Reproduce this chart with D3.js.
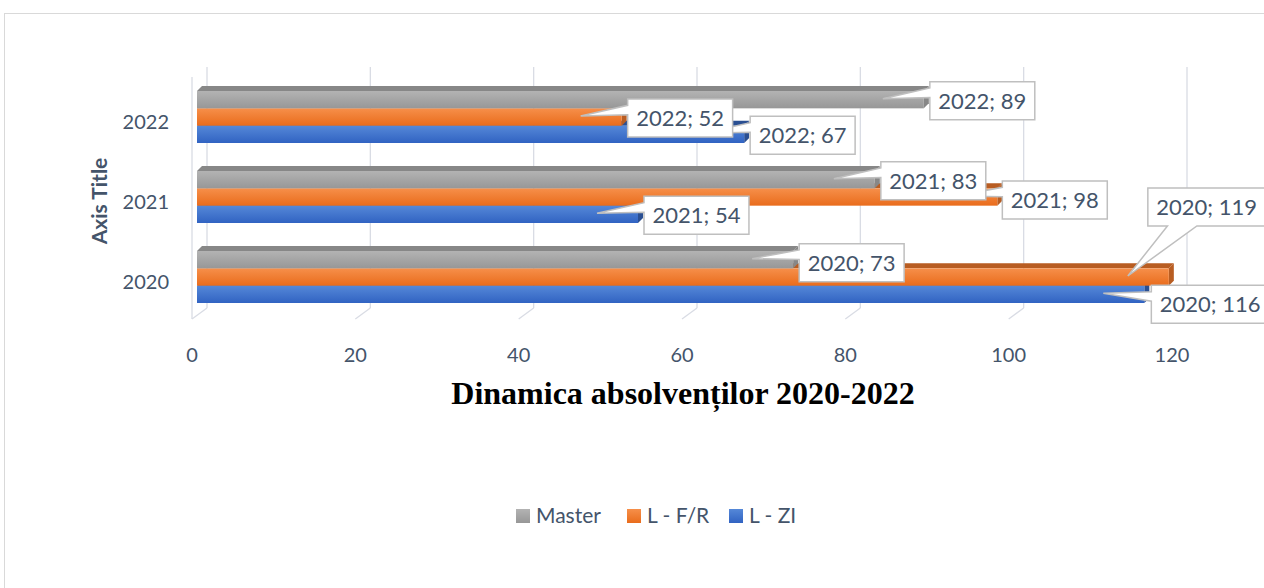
<html>
<head>
  <meta charset="utf-8">
  <title>Dinamica absolventilor</title>
  <script src="https://d3js.org/d3.v7.min.js"></script>
  <style>
    body { margin: 0; background: #fff; }
  </style>
</head>
<body>
  <script>
    // data
    const years = ["2022", "2021", "2020"];
    const seriesNames = ["Master", "L - F/R", "L - ZI"];
    const master = { "2020": 73, "2021": 83, "2022": 89 };
    const lfr = { "2020": 119, "2021": 98, "2022": 52 };
    const lzi = { "2020": 116, "2021": 54, "2022": 67 };
    const xTicks = [0, 20, 40, 60, 80, 100, 120];

    const values = [master, lfr, lzi];

    // colours [light, dark, top/side face]
    const colors = [
      ["#b3b3b3", "#979797", "#878787"],
      ["#f68f4a", "#e96c1c", "#b85d22"],
      ["#5588d8", "#3163c2", "#2a4f92"]
    ];

    // callout box offsets (layout only), relative to bar end / bar centre
    const calloutShift = {
      "L - F/R|2020": [-27, -71],
      "L - ZI|2020": [1, 9],
      "Master|2020": [0, 2],
      "L - F/R|2021": [-1, 2]
    };

    const width = 1264, height = 588;
    const svg = d3.select("body").append("svg")
      .attr("width", width)
      .attr("height", height);

    const txt = "#44546a";
    const grid = "#d9dce4";

    // chart frame
    svg.append("rect")
      .attr("x", 4.5).attr("y", 13.5)
      .attr("width", 1400).attr("height", 700)
      .attr("fill", "#fff")
      .attr("stroke", "#d9d9d9");

    const x = d3.scaleLinear().domain([0, 120]).range([0, 980]);
    const frontX = 192, barX = 197, backX = 207;
    const backTop = 67, backBottom = 308, frontBottom = 319;

    const y = d3.scaleBand().domain(years).range([77, 317]).paddingInner(0.35).paddingOuter(0.175);
    const yi = d3.scaleBand().domain(seriesNames).range([0, y.bandwidth()]);

    const defs = svg.append("defs");
    colors.forEach(function (c, i) {
      const g = defs.append("linearGradient")
        .attr("id", "grad" + i)
        .attr("x1", 0).attr("y1", 0).attr("x2", 0).attr("y2", 1);
      g.append("stop").attr("offset", "0%").attr("stop-color", c[0]);
      g.append("stop").attr("offset", "100%").attr("stop-color", c[1]);
    });

    // back wall gridlines + floor lines
    const gl = svg.append("g");
    gl.selectAll(".vg").data(xTicks).enter().append("line")
      .attr("x1", d => backX + x(d)).attr("x2", d => backX + x(d))
      .attr("y1", backTop).attr("y2", backBottom)
      .attr("stroke", grid).attr("stroke-width", 1.3);
    gl.selectAll(".fg").data(xTicks).enter().append("line")
      .attr("x1", d => backX + x(d)).attr("x2", d => frontX + x(d))
      .attr("y1", backBottom).attr("y2", frontBottom)
      .attr("stroke", grid).attr("stroke-width", 1.3);
    gl.append("line")
      .attr("x1", frontX).attr("x2", frontX)
      .attr("y1", backTop + 10).attr("y2", frontBottom)
      .attr("stroke", grid).attr("stroke-width", 1.3);

    // x tick labels
    svg.append("g").selectAll("text").data(xTicks).enter().append("text")
      .attr("x", d => frontX + x(d))
      .attr("y", 362)
      .attr("text-anchor", "middle")
      .attr("font-family", "Lato")
      .attr("font-size", 20)
      .attr("fill", txt)
      .text(d => d);

    // y tick labels
    svg.append("g").selectAll("text").data(years).enter().append("text")
      .attr("x", 169)
      .attr("y", d => y(d) + y.bandwidth() / 2 + 12)
      .attr("text-anchor", "end")
      .attr("font-family", "Lato")
      .attr("font-size", 20)
      .attr("fill", txt)
      .text(d => d);

    svg.append("text")
      .attr("transform", "translate(107,201) rotate(-90)")
      .attr("text-anchor", "middle")
      .attr("font-family", "Lato")
      .attr("font-weight", "bold")
      .attr("font-size", 21)
      .attr("fill", txt)
      .text("Axis Title");

    // 3d bars, drawn bottom series first so upper bars cover top faces
    const ddx = 5, ddy = 5;
    const bars = svg.append("g");
    const points = [];
    years.forEach(function (yr) {
      for (let i = seriesNames.length - 1; i >= 0; i--) {
        const v = values[i][yr];
        const x0 = barX, x1 = barX + x(v);
        const y0 = y(yr) + yi(seriesNames[i]), y1 = y0 + yi.bandwidth();
        const g = bars.append("g");
        // top face
        g.append("path")
          .attr("d", `M${x0},${y0} L${x0 + ddx},${y0 - ddy} L${x1 + ddx},${y0 - ddy} L${x1},${y0} Z`)
          .attr("fill", colors[i][2]);
        // side face
        g.append("path")
          .attr("d", `M${x1},${y0} L${x1 + ddx},${y0 - ddy} L${x1 + ddx},${y1 - ddy} L${x1},${y1} Z`)
          .attr("fill", colors[i][2]);
        // front face
        g.append("rect")
          .attr("x", x0).attr("y", y0)
          .attr("width", x1 - x0).attr("height", y1 - y0)
          .attr("fill", "url(#grad" + i + ")");
        points.push({ name: seriesNames[i], year: yr, v: v, end: x1, cy: (y0 + y1) / 2 });
      }
    });

    // callout data labels
    const labels = svg.append("g");
    points.forEach(function (p) {
      const label = p.year + "; " + p.v;
      const shift = calloutShift[p.name + "|" + p.year] || [0, 0];
      const t = labels.append("text")
        .attr("font-family", "Lato")
        .attr("font-size", 22)
        .attr("fill", txt)
        .attr("text-anchor", "middle")
        .text(label);
      const tw = t.node().getComputedTextLength();
      const w = tw + 17, h = 38;
      const bx = p.end + 6 + shift[0], by = p.cy - h / 2 + 1 + shift[1];
      const tip = [p.end - 41, p.cy - 1];
      // wedgeRectCallout style geometry
      const cx = bx + w / 2, cy = by + h / 2;
      const dxp = tip[0] - cx, dyp = tip[1] - cy;
      let d;
      const inside = Math.abs(dxp) < w / 2 && Math.abs(dyp) < h / 2;
      if (inside) {
        d = `M${bx},${by} h${w} v${h} h${-w} Z`;
      } else if (Math.abs(dxp) / w > Math.abs(dyp) / h) {
        const ya = by + h * (dyp > 0 ? 7 : 2) / 12, yb = by + h * (dyp > 0 ? 10 : 5) / 12;
        if (dxp < 0) {
          d = `M${bx},${by} h${w} v${h} h${-w} L${bx},${yb} L${tip[0]},${tip[1]} L${bx},${ya} Z`;
        } else {
          d = `M${bx},${by} h${w} L${bx + w},${ya} L${tip[0]},${tip[1]} L${bx + w},${yb} V${by + h} h${-w} Z`;
        }
      } else {
        const xa = bx + w * (dxp > 0 ? 7 : 2) / 12, xb = bx + w * (dxp > 0 ? 10 : 5) / 12;
        if (dyp > 0) {
          d = `M${bx},${by} h${w} v${h} L${xb},${by + h} L${tip[0]},${tip[1]} L${xa},${by + h} L${bx},${by + h} Z`;
        } else {
          d = `M${bx},${by} L${xa},${by} L${tip[0]},${tip[1]} L${xb},${by} h${bx + w - xb} v${h} h${-w} Z`;
        }
      }
      labels.insert("path", "text")
        .attr("d", d)
        .attr("fill", "#fff")
        .attr("stroke", "#bfbfbf")
        .attr("stroke-width", 1.5);
      t.attr("x", cx).attr("y", cy + 8);
      t.raise();
    });

    // title
    svg.append("text")
      .attr("x", 683).attr("y", 404)
      .attr("text-anchor", "middle")
      .attr("font-family", "Liberation Serif")
      .attr("font-weight", "bold")
      .attr("font-size", 32)
      .attr("fill", "#000")
      .text("Dinamica absolvenților 2020-2022");

    // legend
    const legX = [516, 627, 729];
    const leg = svg.append("g");
    seriesNames.forEach(function (n, i) {
      leg.append("rect")
        .attr("x", legX[i]).attr("y", 509)
        .attr("width", 14).attr("height", 14)
        .attr("fill", "url(#grad" + i + ")");
      leg.append("text")
        .attr("x", legX[i] + 20).attr("y", 523)
        .attr("font-family", "Lato")
        .attr("font-size", 21)
        .attr("fill", txt)
        .text(n);
    });
  </script>
</body>
</html>
